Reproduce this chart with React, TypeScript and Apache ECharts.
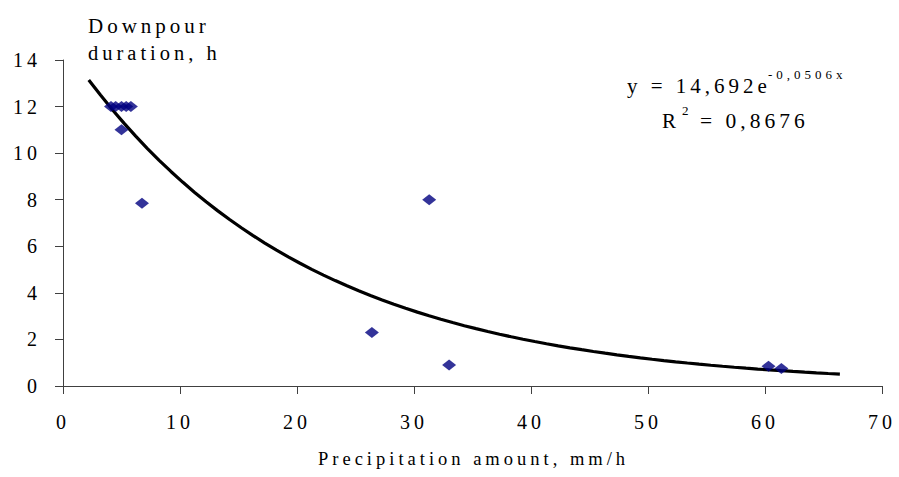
import React, { useEffect, useRef } from "react";
import * as echarts from "echarts";

const precipitation = [4.1, 4.5, 5.0, 5.4, 5.8, 5.0, 6.75, 26.4, 31.3, 33.0, 60.3, 61.4];
const duration = [12, 12, 12, 12, 12, 11.0, 7.85, 2.3, 8.0, 0.9, 0.85, 0.75];

const trendA = 14.692;
const trendB = -0.0506;
const trendStart = 2.2;
const trendEnd = 66.4;

const yTitleLines = ["Downpour", "duration, h"];
const xTitle = "Precipitation amount, mm/h";
const eqMain = "y = 14,692e";
const eqExp = "-0,0506x";
const r2Label = "R";
const r2Sup = "2";
const r2Value = "= 0,8676";

const FONT = "Liberation Serif";

export default function App() {
  const ref = useRef<HTMLDivElement>(null);
  useEffect(() => {
    if (!ref.current) return;
    const chart = echarts.init(ref.current, null, { renderer: "svg" });
    const trend: number[][] = [];
    const steps = 64;
    for (let i = 0; i <= steps; i++) {
      const x = trendStart + ((trendEnd - trendStart) * i) / steps;
      trend.push([x, trendA * Math.exp(trendB * x)]);
    }
    const scatterData = precipitation.map((x, i) => [x, duration[i]]);
    const txt = (text: string, left: number, top: number, size: number) => ({
      type: "text",
      left,
      top,
      style: { text, fontFamily: FONT, fontSize: size, fill: "#000" },
    });
    chart.setOption({
      animation: false,
      backgroundColor: "#ffffff",
      textStyle: { fontFamily: FONT },
      grid: { left: 63, right: 17, top: 60, bottom: 91, containLabel: false },
      xAxis: {
        type: "value",
        min: 0,
        max: 70,
        interval: 10,
        splitLine: { show: false },
        axisLine: { show: true, onZero: false, lineStyle: { color: "#404040", width: 1 } },
        axisTick: { show: true, inside: false, length: 8, lineStyle: { color: "#404040" } },
        axisLabel: { color: "#000", fontSize: 20, fontFamily: FONT, margin: 26 },
      },
      yAxis: {
        type: "value",
        min: 0,
        max: 14,
        interval: 2,
        splitLine: { show: false },
        axisLine: { show: true, onZero: false, lineStyle: { color: "#404040", width: 1 } },
        axisTick: { show: true, inside: false, length: 8, lineStyle: { color: "#404040" } },
        axisLabel: { color: "#000", fontSize: 20, fontFamily: FONT, margin: 22 },
      },
      series: [
        {
          type: "line",
          data: trend,
          showSymbol: false,
          smooth: false,
          lineStyle: { color: "#000", width: 3.2 },
          z: 2,
        },
        {
          type: "scatter",
          data: scatterData,
          symbol: "diamond",
          symbolSize: [14, 11],
          itemStyle: { color: "#000080" },
          z: 3,
        },
      ],
      graphic: [
        txt(yTitleLines[0], 88, 15, 21),
        txt(yTitleLines[1], 88, 42, 20.5),
        txt(xTitle, 318, 449, 18.5),
        txt(eqMain, 627, 75, 21),
        txt(eqExp, 768, 68, 13),
        txt(r2Label, 662, 110, 21),
        txt(r2Sup, 682, 104, 13),
        txt(r2Value, 700, 110, 21.5),
      ],
    });
    return () => chart.dispose();
  }, []);
  return (
    <div
      ref={ref}
      style={{ position: "fixed", left: 0, top: 0, width: 899, height: 477, letterSpacing: "4px" }}
    />
  );
}
